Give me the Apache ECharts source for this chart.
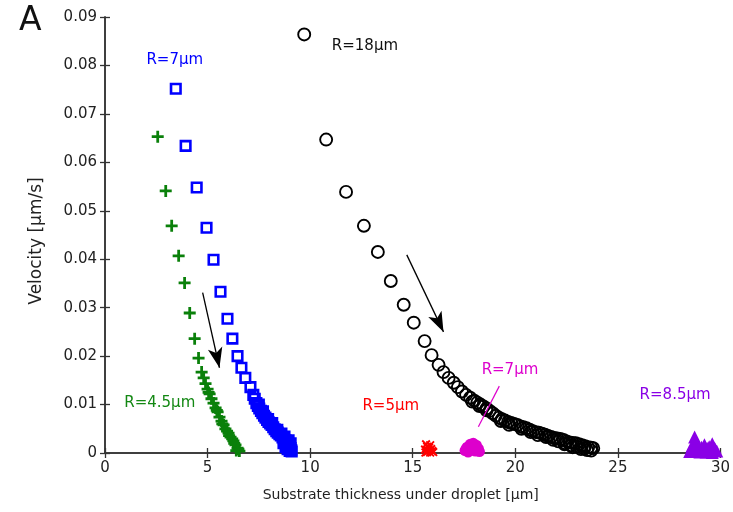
<!DOCTYPE html>
<html>
<head>
<meta charset="utf-8">
<script src="https://cdn.jsdelivr.net/npm/echarts@6/dist/echarts.min.js"></script>
<style>
  html, body { margin: 0; padding: 0; background: #fff; }
  #chart { width: 733px; height: 512px; }
</style>
</head>
<body>
<div id="chart"></div>
<script>
// Axis ranges and ticks
const xTicks = [0, 5, 10, 15, 20, 25, 30];
const yTicks = [0, 0.01, 0.02, 0.03, 0.04, 0.05, 0.06, 0.07, 0.08, 0.09];

// R = 4.5 µm (green plus)
const r45Points = [
  [2.57, 0.0653], [2.96, 0.0541], [3.25, 0.0469], [3.59, 0.0407], [3.88, 0.0351],
  [4.13, 0.0289], [4.37, 0.0236], [4.56, 0.0196], [4.71, 0.0167], [4.81, 0.0155],
  [4.90, 0.0143], [5.00, 0.0132], [5.10, 0.0122], [5.19, 0.0112], [5.29, 0.0103],
  [5.39, 0.0093], [5.49, 0.0085], [5.58, 0.0074], [5.68, 0.0066], [5.78, 0.0058],
  [5.87, 0.0050], [5.95, 0.0045], [6.02, 0.0041], [6.12, 0.0033], [6.20, 0.0029],
  [6.26, 0.0025], [6.36, 0.0017], [6.46, 0.0010], [6.55, 0.0004], [6.40, 0.0005],
  [5.05, 0.0125], [5.45, 0.0088], [5.72, 0.0060], [6.05, 0.0036], [6.30, 0.0020],
  [6.50, 0.0008]
];

// R = 7 µm (blue open squares)
const r7Points = [
  [3.45, 0.0752], [3.93, 0.0634], [4.47, 0.0548], [4.95, 0.0465], [5.29, 0.0399],
  [5.63, 0.0333], [5.97, 0.0277], [6.21, 0.0236], [6.46, 0.0200], [6.65, 0.0176],
  [6.84, 0.0155], [7.09, 0.0136], [7.23, 0.0120], [7.30, 0.0112], [7.38, 0.0103],
  [7.45, 0.0097], [7.52, 0.0092], [7.60, 0.0087], [7.67, 0.0082], [7.75, 0.0077],
  [7.82, 0.0073], [7.90, 0.0068], [7.97, 0.0064], [8.05, 0.0061], [8.12, 0.0058],
  [8.20, 0.0053], [8.27, 0.0049], [8.35, 0.0045], [8.42, 0.0042], [8.50, 0.0039],
  [8.57, 0.0036], [8.65, 0.0032], [8.72, 0.0029], [8.80, 0.0026], [8.87, 0.0022],
  [8.95, 0.0018], [9.00, 0.0014], [9.05, 0.0010], [9.08, 0.0006], [9.10, 0.0003],
  [9.00, 0.0004], [8.90, 0.0008], [8.80, 0.0012], [7.50, 0.0100], [7.70, 0.0086],
  [7.95, 0.0070], [8.15, 0.0062], [8.40, 0.0048], [8.60, 0.0040], [8.75, 0.0034],
  [8.95, 0.0026], [9.05, 0.0020], [8.70, 0.0020], [8.85, 0.0015]
];

// R = 18 µm (black open circles)
const r18Points = [
  [9.71, 0.0864], [10.78, 0.0647], [11.75, 0.0539], [12.62, 0.0469], [13.30, 0.0415],
  [13.93, 0.0355], [14.56, 0.0306], [15.05, 0.0269], [15.58, 0.0231], [15.92, 0.0202],
  [16.26, 0.0182], [16.50, 0.0167], [16.75, 0.0155], [17.00, 0.0145], [17.20, 0.0136],
  [17.40, 0.0127], [17.60, 0.0120], [17.80, 0.0114], [18.00, 0.0108], [18.15, 0.0104],
  [18.30, 0.0100], [18.45, 0.0096], [18.60, 0.0092], [18.75, 0.0087], [18.90, 0.0082],
  [19.05, 0.0077], [19.20, 0.0073], [19.35, 0.0070], [19.50, 0.0067], [19.65, 0.0064],
  [19.80, 0.0062], [19.95, 0.0060], [20.10, 0.0058], [20.25, 0.0055], [20.40, 0.0053],
  [20.55, 0.0051], [20.70, 0.0048], [20.85, 0.0045], [21.00, 0.0043], [21.15, 0.0042],
  [21.30, 0.0040], [21.45, 0.0038], [21.60, 0.0035], [21.75, 0.0033], [21.90, 0.0031],
  [22.05, 0.0030], [22.20, 0.0029], [22.35, 0.0027], [22.50, 0.0024], [22.65, 0.0022],
  [22.80, 0.0021], [22.95, 0.0020], [23.10, 0.0018], [23.25, 0.0016], [23.40, 0.0014],
  [23.55, 0.0012], [23.70, 0.0011], [23.80, 0.0010], [22.80, 0.0012], [23.20, 0.0008],
  [23.50, 0.0006], [23.70, 0.0005], [22.40, 0.0018], [20.30, 0.0050], [20.75, 0.0043],
  [21.10, 0.0037], [21.50, 0.0033], [21.85, 0.0027], [22.10, 0.0024], [22.45, 0.0020],
  [22.70, 0.0016], [23.00, 0.0013], [23.35, 0.0009], [19.30, 0.0066], [19.70, 0.0058],
  [18.60, 0.0088], [18.25, 0.0097], [17.90, 0.0106]
];

// R = 5 µm (red crosses)
const r5Points = [
  [15.65, 0.0018], [15.85, 0.0016], [15.70, 0.0013], [15.80, 0.0011], [15.90, 0.0008],
  [15.60, 0.0007], [15.75, 0.0005], [15.95, 0.0004], [15.70, 0.0002], [15.85, 0.0001],
  [16.00, 0.0002], [15.62, 0.0001]
];

// R = 7 µm, thin substrate (magenta dots)
const r7bPoints = [
  [17.55, 0.0005], [17.65, 0.0012], [17.80, 0.0018], [17.95, 0.0020], [18.10, 0.0016],
  [18.20, 0.0009], [18.25, 0.0003], [17.70, 0.0002], [17.90, 0.0006], [18.05, 0.0004],
  [17.85, 0.0010], [18.00, 0.0012], [17.60, 0.0008]
];

// R = 8.5 µm (purple triangles)
const r85Points = [
  [28.50, 0.0003], [28.62, 0.0015], [28.74, 0.0033], [28.85, 0.0020], [28.95, 0.0010],
  [29.08, 0.0012], [29.22, 0.0017], [29.35, 0.0010], [29.45, 0.0013], [29.60, 0.0019],
  [29.72, 0.0010], [29.82, 0.0004], [29.00, 0.0002], [29.30, 0.0002], [29.60, 0.0001],
  [28.80, 0.0004]
];

// Curve labels: [x, y, text, colour]
const curveLabels = [
  [3.40, 0.0812, 'R=7µm', '#0000ff'],
  [12.67, 0.0839, 'R=18µm', '#111111'],
  [2.67, 0.0103, 'R=4.5µm', '#138813'],
  [13.93, 0.0097, 'R=5µm', '#ff0000'],
  [19.74, 0.0171, 'R=7µm', '#dd00cc'],
  [27.79, 0.0120, 'R=8.5µm', '#8a00e6']
];

// Direction arrows and the pointer line: [[x1, y1], [x2, y2]]
const arrowLines = [
  [[4.76, 0.0331], [5.58, 0.0176]],
  [[14.71, 0.0409], [16.50, 0.0250]]
];
const pointerLine = [[19.22, 0.0138], [18.20, 0.0054]];

const FONT = 'DejaVu Sans';
const plusPath = 'path://M5,0h3v5h5v3h-5v5h-3v-5h-5v-3h5z';
const crossPath = 'path://M0,1.5L1.5,0L5,3.5L8.5,0L10,1.5L6.5,5L10,8.5L8.5,10L5,6.5L1.5,10L0,8.5L3.5,5Z';

const axisLine = { show: true, lineStyle: { color: '#333', width: 1.5 } };
const axisTick = { show: true, inside: false, length: 5, lineStyle: { color: '#333', width: 1.3 } };

const chart = echarts.init(document.getElementById('chart'), null, { renderer: 'canvas' });

chart.setOption({
  animation: false,
  backgroundColor: '#fff',
  grid: { left: 105, right: 10, top: 17, bottom: 59, containLabel: false },
  xAxis: [
    {
      type: 'value', min: xTicks[0], max: xTicks[xTicks.length - 1], interval: xTicks[1] - xTicks[0],
      position: 'bottom',
      axisLine, axisTick, splitLine: { show: false },
      axisLabel: { color: '#222', fontFamily: FONT, fontSize: 15, margin: 8 },
      name: 'Substrate thickness under droplet [µm]',
      nameLocation: 'middle', nameGap: 35,
      nameTextStyle: { color: '#222', fontFamily: FONT, fontSize: 14, padding: [0, 24, 0, 0] }
    },
    {
      type: 'value', min: xTicks[0], max: xTicks[xTicks.length - 1], interval: xTicks[1] - xTicks[0],
      position: 'top',
      axisLine, axisTick, splitLine: { show: false }, axisLabel: { show: false }
    }
  ],
  yAxis: [
    {
      type: 'value', min: yTicks[0], max: yTicks[yTicks.length - 1], interval: yTicks[1] - yTicks[0],
      position: 'left',
      axisLine, axisTick, splitLine: { show: false },
      axisLabel: {
        color: '#222', fontFamily: FONT, fontSize: 15, margin: 8,
        formatter: v => (v === 0 ? '0' : v.toFixed(2))
      },
      name: 'Velocity [µm/s]',
      nameLocation: 'middle', nameGap: 60, nameRotate: 90,
      nameTextStyle: { color: '#222', fontFamily: FONT, fontSize: 17, padding: [0, 12, 0, 0] }
    },
    {
      type: 'value', min: yTicks[0], max: yTicks[yTicks.length - 1], interval: yTicks[1] - yTicks[0],
      position: 'right',
      axisLine, axisTick, splitLine: { show: false }, axisLabel: { show: false }
    }
  ],
  graphic: [
    {
      type: 'text', left: 19, top: 5,
      style: { text: 'A', fill: '#111', font: '33px "DejaVu Sans"' }
    }
  ],
  series: [
    {
      name: 'R=4.5µm', type: 'scatter', clip: false, data: r45Points,
      symbol: plusPath, symbolSize: 12,
      itemStyle: { color: '#0a800a', opacity: 1 }
    },
    {
      name: 'R=7µm', type: 'scatter', clip: false, data: r7Points,
      symbol: 'rect', symbolSize: 9.5,
      itemStyle: { color: 'rgba(255,255,255,0)', borderColor: '#0000ff', borderWidth: 2.6, opacity: 1 }
    },
    {
      name: 'R=18µm', type: 'scatter', clip: false, data: r18Points,
      symbol: 'circle', symbolSize: 12,
      itemStyle: { color: 'rgba(255,255,255,0)', borderColor: '#000', borderWidth: 1.9, opacity: 1 },
      markLine: {
        silent: true, animation: false,
        symbol: ['none', 'arrow'], symbolSize: [11, 20],
        label: { show: false },
        lineStyle: { color: '#000', width: 1.3, type: 'solid' },
        data: arrowLines.map(([a, b]) => [{ coord: a }, { coord: b }])
      }
    },
    {
      name: 'R=5µm', type: 'scatter', clip: false, data: r5Points,
      symbol: crossPath, symbolSize: 9,
      itemStyle: { color: '#ff0000', opacity: 1 }
    },
    {
      name: 'R=7µm thin', type: 'scatter', clip: false, data: r7bPoints,
      symbol: 'circle', symbolSize: 11,
      itemStyle: { color: '#dd00cc', opacity: 1 },
      markLine: {
        silent: true, animation: false,
        symbol: ['none', 'none'],
        label: { show: false },
        lineStyle: { color: '#dd00cc', width: 1.2, type: 'solid' },
        data: [[{ coord: pointerLine[0] }, { coord: pointerLine[1] }]]
      }
    },
    {
      name: 'R=8.5µm', type: 'scatter', clip: false, data: r85Points,
      symbol: 'triangle', symbolSize: 13,
      itemStyle: { color: '#8a00e6', opacity: 1 }
    },
    {
      name: 'labels', type: 'scatter', clip: false, silent: true,
      symbolSize: 0,
      itemStyle: { opacity: 1 },
      data: curveLabels.map(([x, y, text, color]) => ({
        value: [x, y],
        label: {
          show: true, position: 'inside', formatter: text,
          color, fontFamily: FONT, fontSize: 15,
          textBorderWidth: 0, textBorderColor: 'transparent'
        }
      }))
    }
  ]
});
</script>
</body>
</html>
